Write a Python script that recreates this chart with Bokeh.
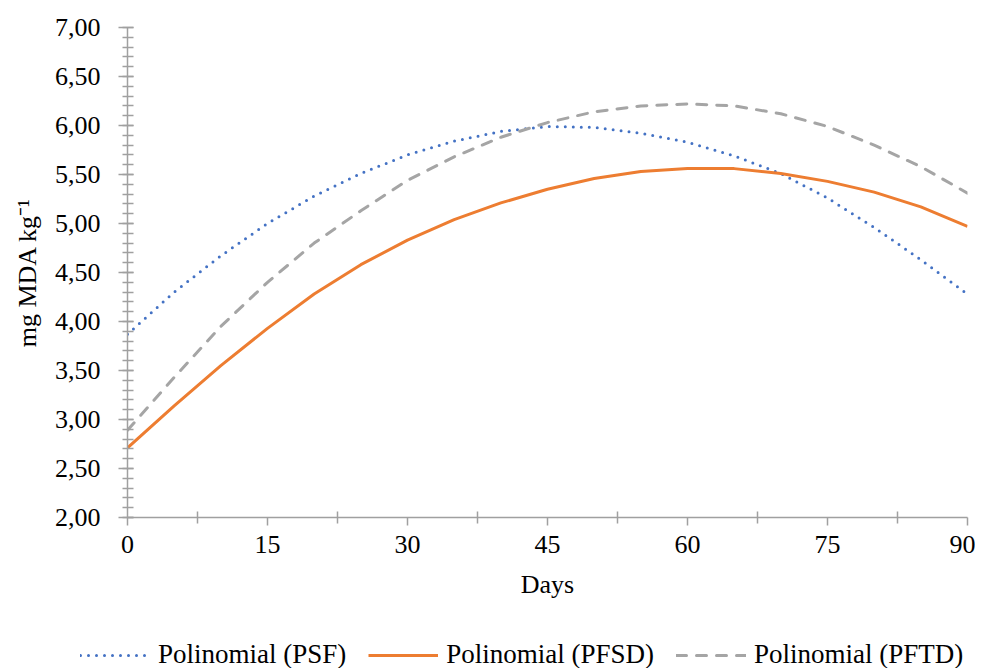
from bokeh.plotting import figure
from bokeh.models import Range1d, FixedTicker, Legend, LegendItem
from bokeh.layouts import column
from bokeh.embed import file_html
from bokeh.resources import INLINE

# ---- data ----
days = [0, 5, 10, 15, 20, 25, 30, 35, 40, 45, 50, 55, 60, 65, 70, 75, 80, 85, 90]
psf = [3.87, 4.30, 4.67, 5.00, 5.28, 5.51, 5.70, 5.84, 5.94, 5.99, 5.98, 5.92,
       5.83, 5.69, 5.51, 5.26, 4.96, 4.63, 4.28]
pfsd = [2.71, 3.14, 3.55, 3.93, 4.28, 4.58, 4.83, 5.04, 5.21, 5.35, 5.46, 5.53,
        5.56, 5.56, 5.51, 5.43, 5.32, 5.17, 4.97]
pftd = [2.89, 3.43, 3.95, 4.40, 4.80, 5.13, 5.44, 5.68, 5.88, 6.03, 6.14, 6.20,
        6.22, 6.20, 6.12, 5.99, 5.80, 5.58, 5.31]
series_names = ["Polinomial (PSF)", "Polinomial (PFSD)", "Polinomial (PFTD)"]

x_ticks = [0, 15, 30, 45, 60, 75, 90]
x_minor = [7.5, 22.5, 37.5, 52.5, 67.5, 82.5]
y_ticks = [2.0, 2.5, 3.0, 3.5, 4.0, 4.5, 5.0, 5.5, 6.0, 6.5, 7.0]
y_minor = [round(2.0 + 0.1 * i, 1) for i in range(51)]

FONT = "Liberation Serif"
AX = "#a0a0a0"
STYLES = [dict(line_color="#4472C4", line_width=3, line_dash="0 8", line_cap="round"),
          dict(line_color="#ED7D31", line_width=3, line_join="round"),
          dict(line_color="#A5A5A5", line_width=3, line_dash="10 10", line_cap="round")]

p = figure(width=975, height=620, x_range=Range1d(0, 90), y_range=Range1d(2, 7),
           output_backend="svg", toolbar_location=None,
           min_border_left=127, min_border_right=8, min_border_top=27,
           min_border_bottom=103, background_fill_color="white",
           border_fill_color="white")
p.grid.visible = False
p.outline_line_color = None
p.frame_align = False

for ys, st in zip([psf, pfsd, pftd], STYLES):
    p.line(days, ys, **st)

# x axis
xa = p.xaxis[0]
xa.ticker = FixedTicker(ticks=x_ticks, minor_ticks=x_minor)
xa.major_label_overrides = {t: str(t) for t in x_ticks}
xa.axis_line_color = AX
xa.axis_line_width = 1.5
xa.major_tick_line_color = AX
xa.minor_tick_line_color = AX
xa.major_tick_line_width = 1.5
xa.minor_tick_line_width = 1.5
xa.major_tick_out = 8
xa.major_tick_in = 0
xa.minor_tick_out = 6
xa.minor_tick_in = 6
xa.major_label_standoff = 10
xa.major_label_text_font = FONT
xa.major_label_text_font_size = "26px"
xa.major_label_text_color = "black"
xa.axis_label = "Days"
xa.axis_label_text_font = FONT
xa.axis_label_text_font_size = "26px"
xa.axis_label_text_font_style = "normal"
xa.axis_label_text_color = "black"
xa.axis_label_standoff = 14

# y axis
ya = p.yaxis[0]
ya.ticker = FixedTicker(ticks=y_ticks, minor_ticks=y_minor)
ya.major_label_overrides = {t: f"{t:.2f}".replace(".", ",") for t in y_ticks}
ya.axis_line_color = AX
ya.axis_line_width = 1.5
ya.major_tick_line_color = AX
ya.minor_tick_line_color = AX
ya.major_tick_line_width = 1.5
ya.minor_tick_line_width = 1.5
ya.major_tick_out = 9
ya.major_tick_in = 6
ya.minor_tick_out = 5
ya.minor_tick_in = 6
ya.major_label_standoff = 18
ya.major_label_text_font = FONT
ya.major_label_text_font_size = "26px"
ya.major_label_text_color = "black"
ya.axis_label = "mg MDA kg⁻¹"
ya.axis_label_text_font = FONT
ya.axis_label_text_font_size = "26px"
ya.axis_label_text_font_style = "normal"
ya.axis_label_text_color = "black"
ya.axis_label_standoff = 10

# legend strip (separate figure below the chart; its lines fall outside its range)
lg = figure(width=975, height=48, x_range=Range1d(0, 1), y_range=Range1d(0, 1),
            output_backend="svg", toolbar_location=None,
            x_axis_type=None, y_axis_type=None,
            min_border_left=0, min_border_right=0, min_border_top=0,
            min_border_bottom=0, background_fill_color="white",
            border_fill_color="white")
lg.grid.visible = False
lg.outline_line_color = None
lg.frame_align = False
lrs = [lg.line(days, ys, **st) for ys, st in zip([psf, pfsd, pftd], STYLES)]

legend = Legend(
    items=[LegendItem(label=n, renderers=[r]) for n, r in zip(series_names, lrs)],
    orientation="horizontal", location=(80, -2),
    glyph_width=70, glyph_height=20, label_standoff=8, spacing=22,
    padding=0, margin=0, border_line_color=None, background_fill_alpha=0,
    label_text_font=FONT, label_text_font_size="27px", label_text_color="black")
lg.add_layout(legend)

open("out.html", "w").write(file_html(column(p, lg, spacing=0), INLINE))
